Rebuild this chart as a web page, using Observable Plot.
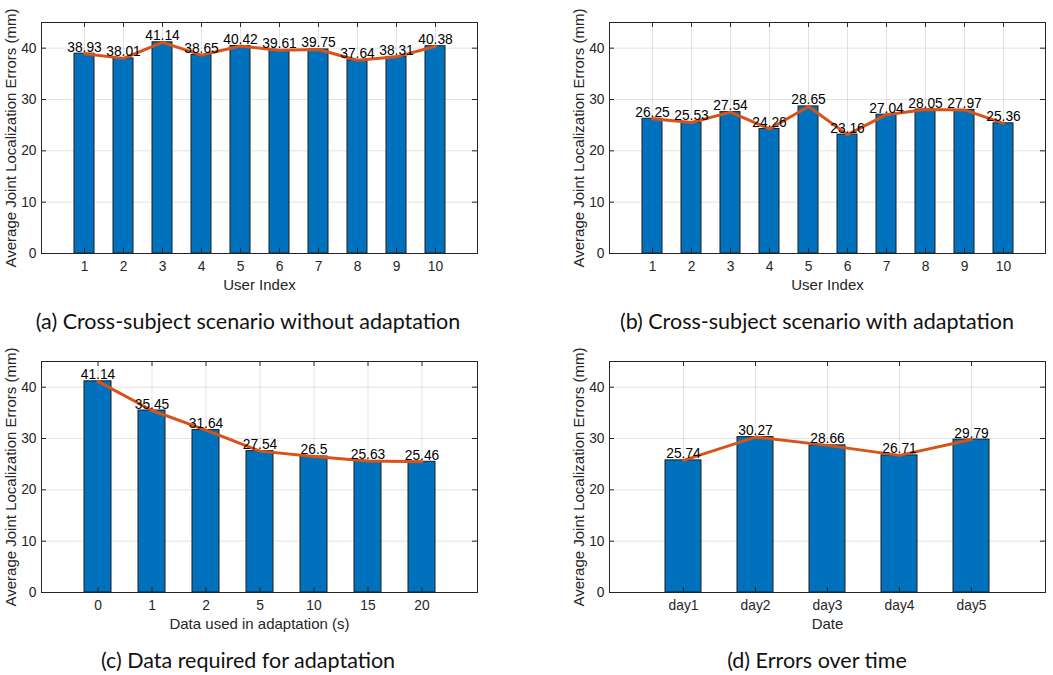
<!DOCTYPE html>
<html>
<head>
<meta charset="utf-8">
<script src="https://cdn.jsdelivr.net/npm/d3@7"></script>
<script src="https://cdn.jsdelivr.net/npm/@observablehq/plot@0.6"></script>
<style>
  html, body { margin: 0; padding: 0; background: #fff; overflow: hidden; }
  #root { position: relative; width: 1053px; height: 675px; }
  .panel { position: absolute; }
  .caption { position: absolute; width: 500px; text-align: center; font-family: Lato, "Noto Sans", sans-serif; font-size: 21.5px; color: #111; line-height: 1; }
</style>
</head>
<body>
<div id="root"></div>
<script>
// ---- data ----
const userIndex = ["1", "2", "3", "4", "5", "6", "7", "8", "9", "10"];
const errNoAdapt = [38.93, 38.01, 41.14, 38.65, 40.42, 39.61, 39.75, 37.64, 38.31, 40.38];
const errWithAdapt = [26.25, 25.53, 27.54, 24.26, 28.65, 23.16, 27.04, 28.05, 27.97, 25.36];
const adaptSeconds = ["0", "1", "2", "5", "10", "15", "20"];
const errByAdaptData = [41.14, 35.45, 31.64, 27.54, 26.5, 25.63, 25.46];
const days = ["day1", "day2", "day3", "day4", "day5"];
const errByDay = [25.74, 30.27, 28.66, 26.71, 29.79];
const yTicks = [0, 10, 20, 30, 40];
const yLabel = "Average Joint Localization Errors (mm)";

const captions = [
  "(a) Cross-subject scenario without adaptation",
  "(b) Cross-subject scenario with adaptation",
  "(c) Data required for adaptation",
  "(d) Errors over time"
];

// ---- layout ----
const W = 436, H = 231;
const mL = 41, mT = 22, mR = 8, mB = 47;
const axisColor = "#262626";
const font = "'Liberation Sans', Arial, sans-serif";

function panel(cats, vals, xLabel) {
  const data = cats.map((c, i) => ({cat: c, val: vals[i]}));
  return Plot.plot({
    width: mL + W + mR,
    height: mT + H + mB,
    marginLeft: mL, marginTop: mT, marginRight: mR, marginBottom: mB,
    style: {fontFamily: font, fontSize: "13.5px", color: axisColor, background: "transparent", overflow: "visible"},
    x: {type: "band", domain: cats, paddingInner: 0.5, paddingOuter: 0.75},
    y: {domain: [0, 45]},
    marks: [
      Plot.gridY(yTicks, {stroke: axisColor, strokeOpacity: 0.13}),
      Plot.gridX(cats, {stroke: axisColor, strokeOpacity: 0.13}),
      Plot.barY(data, {x: "cat", y: "val", fill: "#0072BD", stroke: "#1c1c1c", strokeWidth: 1}),
      Plot.lineY(data, {x: "cat", y: "val", stroke: "#D95319", strokeWidth: 3}),
      Plot.text(data, {x: "cat", y: "val", text: d => String(d.val), lineAnchor: "bottom", dy: -2, fill: "black", fontSize: 13.8, fontFamily: font}),
      Plot.ruleY(yTicks, {stroke: axisColor, insetRight: W - 5}),
      Plot.ruleY(yTicks, {stroke: axisColor, insetLeft: W - 5}),
      Plot.ruleX(cats, {stroke: axisColor, insetTop: H - 5}),
      Plot.ruleX(cats, {stroke: axisColor, insetBottom: H - 5}),
      Plot.axisY(yTicks, {tickSize: 0, tickPadding: 5, label: null, fontSize: 13.8, fontFamily: font}),
      Plot.axisY({label: yLabel, ticks: [], tickSize: 0, labelAnchor: "center", labelArrow: "none", labelOffset: 36, fontSize: 15, fontFamily: font}),
      Plot.axisX({tickSize: 0, tickPadding: 8, label: null, fontSize: 13.8, fontFamily: font}),
      Plot.axisX({label: xLabel, ticks: [], tickSize: 0, labelAnchor: "center", labelArrow: "none", labelOffset: 36, fontSize: 15, fontFamily: font}),
      Plot.frame({stroke: axisColor, strokeWidth: 1})
    ]
  });
}

const root = document.getElementById("root");
const specs = [
  {cats: userIndex, vals: errNoAdapt, xl: "User Index", left: 0, top: 0, capX: 248, capY: 311},
  {cats: userIndex, vals: errWithAdapt, xl: "User Index", left: 568, top: 0, capX: 817, capY: 311},
  {cats: adaptSeconds, vals: errByAdaptData, xl: "Data used in adaptation (s)", left: 0, top: 339, capX: 248, capY: 650},
  {cats: days, vals: errByDay, xl: "Date", left: 568, top: 339, capX: 817, capY: 650}
];
specs.forEach((s, i) => {
  const div = document.createElement("div");
  div.className = "panel";
  div.style.left = s.left + "px";
  div.style.top = s.top + "px";
  div.appendChild(panel(s.cats, s.vals, s.xl));
  root.appendChild(div);
  const cap = document.createElement("div");
  cap.className = "caption";
  cap.textContent = captions[i];
  cap.style.left = (s.capX - 250) + "px";
  cap.style.top = s.capY + "px";
  root.appendChild(cap);
});
</script>
</body>
</html>
